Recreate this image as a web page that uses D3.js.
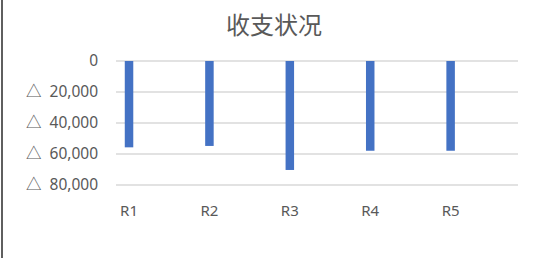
<!DOCTYPE html>
<html>
<head>
<meta charset="utf-8">
<script src="https://cdn.jsdelivr.net/npm/d3@7"></script>
<style>
  html, body { margin: 0; padding: 0; background: #fff; }
  svg { display: block; font-family: "Noto Sans", "Noto Sans CJK SC", sans-serif; }
  text { white-space: pre; }
</style>
</head>
<body>
<div id="chart"></div>
<script>
const title = '收支状况';
const categories = ['R1', 'R2', 'R3', 'R4', 'R5'];
const values = [-55700, -54800, -70300, -57900, -57900];
const tickValues = [0, -20000, -40000, -60000, -80000];

const width = 548;
const height = 258;
const margin = { top: 61, right: 30, bottom: 73, left: 116 };

const svg = d3.select('#chart')
  .append('svg')
  .attr('width', width)
  .attr('height', height);

// left frame edge
svg.append('line')
  .attr('x1', 2).attr('x2', 2)
  .attr('y1', 0).attr('y2', height)
  .attr('stroke', '#5f5f5f')
  .attr('stroke-width', 2);

svg.append('text')
  .attr('x', 274)
  .attr('y', 34)
  .attr('text-anchor', 'middle')
  .attr('font-family', '"Noto Sans CJK SC", sans-serif')
  .attr('font-size', 24)
  .attr('fill', '#595959')
  .text(title);

const x = d3.scaleBand()
  .domain(categories)
  .range([margin.left, width - margin.right]);

const y = d3.scaleLinear()
  .domain([0, -80000])
  .range([margin.top, height - margin.bottom]);

const fmt = v => v === 0 ? '0' : '△  ' + d3.format(',')(Math.abs(v));

// gridlines
svg.append('g')
  .selectAll('line')
  .data(tickValues)
  .enter()
  .append('line')
  .attr('x1', x.range()[0])
  .attr('x2', x.range()[1])
  .attr('y1', d => y(d))
  .attr('y2', d => y(d))
  .attr('stroke', '#d9d9d9')
  .attr('stroke-width', 1.5);

// y tick labels
svg.append('g')
  .selectAll('text')
  .data(tickValues)
  .enter()
  .append('text')
  .attr('x', 98)
  .attr('y', d => y(d) + 5)
  .attr('text-anchor', 'end')
  .attr('font-size', 15.5)
  .attr('fill', '#595959')
  .text(fmt);

const barW = 8.5;
const barOffset = x.bandwidth() * 0.162;

svg.append('g')
  .selectAll('rect')
  .data(categories)
  .enter()
  .append('rect')
  .attr('x', d => x(d) + barOffset - barW / 2)
  .attr('y', y(0))
  .attr('width', barW)
  .attr('height', (d, i) => y(values[i]) - y(0))
  .attr('fill', '#4472c4');

// category labels
svg.append('g')
  .selectAll('text')
  .data(categories)
  .enter()
  .append('text')
  .attr('x', d => x(d) + barOffset)
  .attr('y', 216)
  .attr('text-anchor', 'middle')
  .attr('font-size', 15)
  .attr('fill', '#595959')
  .text(d => d);
</script>
</body>
</html>
